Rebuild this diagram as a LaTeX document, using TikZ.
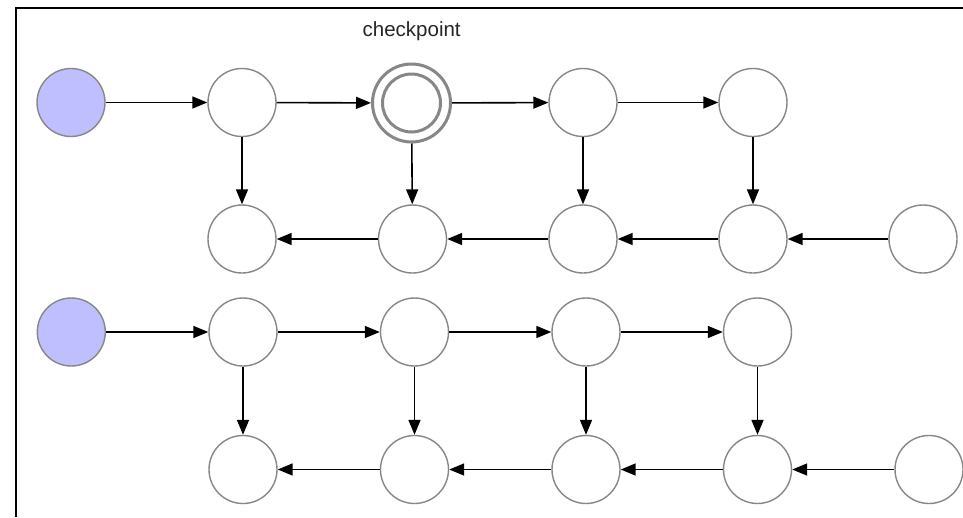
\documentclass[tikz,border=0pt]{standalone}
\usepackage{fontspec}
\setmainfont{Liberation Sans}
\usetikzlibrary{arrows.meta}
\begin{document}
\begin{tikzpicture}[x=1pt,y=-1pt,
  st/.style={circle,draw=black!47,line width=1.4pt,fill=white,minimum size=68pt,inner sep=0pt},
  startst/.style={st,fill={rgb,255:red,191;green,191;blue,255}},
  ckpt/.style={circle,draw=black!47,line width=3pt,fill=white,minimum size=78pt,inner sep=0pt},
  ckin/.style={circle,draw=black!47,line width=3pt,minimum size=58pt,inner sep=0pt},
  conn/.style={draw=black,line width=1.6pt,-{Triangle[length=15pt,width=12pt]}},
  frame/.style={draw=black,line width=2.6pt}]
\useasboundingbox (0,0) rectangle (963,517);
\fill[white] (0,0) rectangle (963,517);
\draw[frame] (16,517) -- (16,8) -- (963,8);
% upper group
\node[startst] (a0) at (71,102.5) {};
\node[st] (a1) at (242,102.5) {};
\node[ckpt] (a2) at (411.5,103) {};
\node[ckin] (a2i) at (411.5,103) {};
\node[st] (a3) at (583,102.5) {};
\node[st] (a4) at (753,102.5) {};
\node[st] (b1) at (242,239) {};
\node[st] (b2) at (412.5,239) {};
\node[st] (b3) at (583,239) {};
\node[st] (b4) at (753,239) {};
\node[st] (b5) at (923,239) {};
\node[anchor=base,font=\fontsize{20.5}{23}\selectfont,text=black!85] (lbl) at (411.7,36) {checkpoint};
\draw[conn] (a0) -- (a1);
\draw[conn] (a1) -- (a2);
\draw[conn] (a2) -- (a3);
\draw[conn] (a3) -- (a4);
\draw[conn] (a1) -- (b1);
\draw[conn] (a2) -- (b2);
\draw[conn] (a3) -- (b3);
\draw[conn] (a4) -- (b4);
\draw[conn] (b5) -- (b4);
\draw[conn] (b4) -- (b3);
\draw[conn] (b3) -- (b2);
\draw[conn] (b2) -- (b1);
% lower group
\node[startst] (c0) at (71.3,332) {};
\node[st] (c1) at (243,332) {};
\node[st] (c2) at (414.5,332) {};
\node[st] (c3) at (586,332) {};
\node[st] (c4) at (757.5,332) {};
\node[st] (d1) at (243,469.5) {};
\node[st] (d2) at (414.5,469.5) {};
\node[st] (d3) at (586,469.5) {};
\node[st] (d4) at (757.5,469.5) {};
\node[st] (d5) at (929,469.5) {};
\draw[conn] (c0) -- (c1);
\draw[conn] (c1) -- (c2);
\draw[conn] (c2) -- (c3);
\draw[conn] (c3) -- (c4);
\draw[conn] (c1) -- (d1);
\draw[conn] (c2) -- (d2);
\draw[conn] (c3) -- (d3);
\draw[conn] (c4) -- (d4);
\draw[conn] (d5) -- (d4);
\draw[conn] (d4) -- (d3);
\draw[conn] (d3) -- (d2);
\draw[conn] (d2) -- (d1);
\end{tikzpicture}
\end{document}
